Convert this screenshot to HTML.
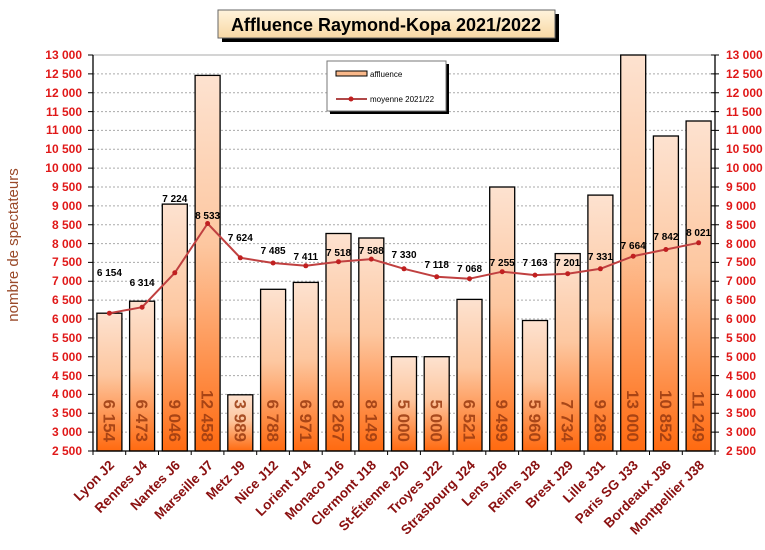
<!DOCTYPE html>
<html><head><meta charset="utf-8"><style>
body{margin:0;background:#fff}
svg{display:block;font-family:"Liberation Sans",Arial,sans-serif}
.yl{font-size:12px;font-weight:bold;fill:#e01818}
.xl{font-size:13.5px;font-weight:bold;fill:#8a1010}
.ml{font-size:10px;font-weight:bold;fill:#000;text-anchor:middle}
.vl{font-size:17px;font-weight:bold;fill:#9a3a10;opacity:.85}
</style></head><body>
<svg width="765" height="550" viewBox="0 0 765 550">
<defs>
<linearGradient id="bg" x1="0" y1="0" x2="0" y2="1">
<stop offset="0" stop-color="#fde2d0"/><stop offset="0.45" stop-color="#fdc7a0"/><stop offset="1" stop-color="#ff6a10"/>
</linearGradient>
<linearGradient id="tg" x1="0" y1="0" x2="0" y2="1">
<stop offset="0" stop-color="#fff3dc"/><stop offset="1" stop-color="#f8d8a4"/>
</linearGradient>
</defs>
<rect x="222" y="14" width="337" height="28" fill="#000"/>
<rect x="218" y="10" width="337" height="28" fill="url(#tg)" stroke="#666" stroke-width="1"/>
<text x="386" y="31" text-anchor="middle" font-size="18" font-weight="bold">Affluence Raymond-Kopa 2021/2022</text>
<g stroke="#aaa" stroke-dasharray="2,2" stroke-width="1">
<line x1="93" x2="715" y1="55" y2="55" stroke-dasharray="none"/>
<line x1="93" x2="715" y1="73.9" y2="73.9"/><line x1="93" x2="715" y1="92.7" y2="92.7"/><line x1="93" x2="715" y1="111.6" y2="111.6"/><line x1="93" x2="715" y1="130.4" y2="130.4"/><line x1="93" x2="715" y1="149.3" y2="149.3"/><line x1="93" x2="715" y1="168.1" y2="168.1"/><line x1="93" x2="715" y1="187" y2="187"/><line x1="93" x2="715" y1="205.9" y2="205.9"/><line x1="93" x2="715" y1="224.7" y2="224.7"/><line x1="93" x2="715" y1="243.6" y2="243.6"/><line x1="93" x2="715" y1="262.4" y2="262.4"/><line x1="93" x2="715" y1="281.3" y2="281.3"/><line x1="93" x2="715" y1="300.1" y2="300.1"/><line x1="93" x2="715" y1="319" y2="319"/><line x1="93" x2="715" y1="337.9" y2="337.9"/><line x1="93" x2="715" y1="356.7" y2="356.7"/><line x1="93" x2="715" y1="375.6" y2="375.6"/><line x1="93" x2="715" y1="394.4" y2="394.4"/><line x1="93" x2="715" y1="413.3" y2="413.3"/><line x1="93" x2="715" y1="432.1" y2="432.1"/>
</g>
<g fill="url(#bg)" stroke="#000" stroke-width="1.3">
<rect x="96.9" y="313.2" width="25" height="137.8"/>
<rect x="129.6" y="301.2" width="25" height="149.8"/>
<rect x="162.3" y="204.1" width="25" height="246.9"/>
<rect x="195.1" y="75.4" width="25" height="375.6"/>
<rect x="227.8" y="394.8" width="25" height="56.2"/>
<rect x="260.6" y="289.3" width="25" height="161.7"/>
<rect x="293.3" y="282.4" width="25" height="168.6"/>
<rect x="326" y="233.5" width="25" height="217.5"/>
<rect x="358.8" y="238" width="25" height="213"/>
<rect x="391.5" y="356.7" width="25" height="94.3"/>
<rect x="424.2" y="356.7" width="25" height="94.3"/>
<rect x="457" y="299.4" width="25" height="151.6"/>
<rect x="489.7" y="187" width="25" height="264"/>
<rect x="522.5" y="320.5" width="25" height="130.5"/>
<rect x="555.2" y="253.6" width="25" height="197.4"/>
<rect x="587.9" y="195.1" width="25" height="255.9"/>
<rect x="620.7" y="55" width="25" height="396"/>
<rect x="653.4" y="136" width="25" height="315"/>
<rect x="686.1" y="121" width="25" height="330"/>
</g>
<g class="vl" text-anchor="end">
<text transform="translate(109.4,442) rotate(90)" dy="0.35em">6 154</text>
<text transform="translate(142.1,442) rotate(90)" dy="0.35em">6 473</text>
<text transform="translate(174.8,442) rotate(90)" dy="0.35em">9 046</text>
<text transform="translate(207.6,442) rotate(90)" dy="0.35em">12 458</text>
<text transform="translate(240.3,442) rotate(90)" dy="0.35em">3 989</text>
<text transform="translate(273.1,442) rotate(90)" dy="0.35em">6 788</text>
<text transform="translate(305.8,442) rotate(90)" dy="0.35em">6 971</text>
<text transform="translate(338.5,442) rotate(90)" dy="0.35em">8 267</text>
<text transform="translate(371.3,442) rotate(90)" dy="0.35em">8 149</text>
<text transform="translate(404,442) rotate(90)" dy="0.35em">5 000</text>
<text transform="translate(436.7,442) rotate(90)" dy="0.35em">5 000</text>
<text transform="translate(469.5,442) rotate(90)" dy="0.35em">6 521</text>
<text transform="translate(502.2,442) rotate(90)" dy="0.35em">9 499</text>
<text transform="translate(535,442) rotate(90)" dy="0.35em">5 960</text>
<text transform="translate(567.7,442) rotate(90)" dy="0.35em">7 734</text>
<text transform="translate(600.4,442) rotate(90)" dy="0.35em">9 286</text>
<text transform="translate(633.2,442) rotate(90)" dy="0.35em">13 000</text>
<text transform="translate(665.9,442) rotate(90)" dy="0.35em">10 852</text>
<text transform="translate(698.6,442) rotate(90)" dy="0.35em">11 249</text>
</g>
<polyline fill="none" stroke="#c04040" stroke-width="2" stroke-linejoin="round" points="109.4,313.2 142.1,307.2 174.8,272.8 207.6,223.5 240.3,257.8 273.1,263 305.8,265.8 338.5,261.7 371.3,259.1 404,268.8 436.7,276.8 469.5,278.7 502.2,271.7 535,275.1 567.7,273.7 600.4,268.8 633.2,256.2 665.9,249.5 698.6,242.8"/>
<g fill="#c02020">
<circle cx="109.4" cy="313.2" r="2.5"/><circle cx="142.1" cy="307.2" r="2.5"/><circle cx="174.8" cy="272.8" r="2.5"/><circle cx="207.6" cy="223.5" r="2.5"/><circle cx="240.3" cy="257.8" r="2.5"/><circle cx="273.1" cy="263" r="2.5"/><circle cx="305.8" cy="265.8" r="2.5"/><circle cx="338.5" cy="261.7" r="2.5"/><circle cx="371.3" cy="259.1" r="2.5"/><circle cx="404" cy="268.8" r="2.5"/><circle cx="436.7" cy="276.8" r="2.5"/><circle cx="469.5" cy="278.7" r="2.5"/><circle cx="502.2" cy="271.7" r="2.5"/><circle cx="535" cy="275.1" r="2.5"/><circle cx="567.7" cy="273.7" r="2.5"/><circle cx="600.4" cy="268.8" r="2.5"/><circle cx="633.2" cy="256.2" r="2.5"/><circle cx="665.9" cy="249.5" r="2.5"/><circle cx="698.6" cy="242.8" r="2.5"/>
</g>
<g class="ml">
<text x="109.4" y="276">6 154</text><text x="142.1" y="286">6 314</text><text x="174.8" y="202">7 224</text><text x="207.6" y="219">8 533</text><text x="240.3" y="241">7 624</text><text x="273.1" y="254">7 485</text><text x="305.8" y="260">7 411</text><text x="338.5" y="256">7 518</text><text x="371.3" y="254">7 588</text><text x="404" y="258">7 330</text><text x="436.7" y="268">7 118</text><text x="469.5" y="272">7 068</text><text x="502.2" y="266">7 255</text><text x="535" y="266">7 163</text><text x="567.7" y="266">7 201</text><text x="600.4" y="260">7 331</text><text x="633.2" y="249">7 664</text><text x="665.9" y="240">7 842</text><text x="698.6" y="236">8 021</text>
</g>
<g stroke="#000" stroke-width="1.3">
<line x1="93" y1="55" x2="93" y2="451"/>
<line x1="715" y1="55" x2="715" y2="451"/>
<line x1="93" y1="451" x2="715" y2="451"/>
</g>
<g stroke="#000" stroke-width="1">
<path d="M88 55H93M88 73.9H93M88 92.7H93M88 111.6H93M88 130.4H93M88 149.3H93M88 168.1H93M88 187H93M88 205.9H93M88 224.7H93M88 243.6H93M88 262.4H93M88 281.3H93M88 300.1H93M88 319H93M88 337.9H93M88 356.7H93M88 375.6H93M88 394.4H93M88 413.3H93M88 432.1H93M88 451H93"/>
<path d="M711 55H719M711 73.9H719M711 92.7H719M711 111.6H719M711 130.4H719M711 149.3H719M711 168.1H719M711 187H719M711 205.9H719M711 224.7H719M711 243.6H719M711 262.4H719M711 281.3H719M711 300.1H719M711 319H719M711 337.9H719M711 356.7H719M711 375.6H719M711 394.4H719M711 413.3H719M711 432.1H719M711 451H719"/>
<path d="M93 451V455M125.7 451V455M158.5 451V455M191.2 451V455M223.9 451V455M256.7 451V455M289.4 451V455M322.2 451V455M354.9 451V455M387.6 451V455M420.4 451V455M453.1 451V455M485.8 451V455M518.6 451V455M551.3 451V455M584.1 451V455M616.8 451V455M649.5 451V455M682.3 451V455M715 451V455"/>
</g>
<g class="yl" text-anchor="end">
<text x="82" y="59">13 000</text><text x="82" y="78">12 500</text><text x="82" y="97">12 000</text><text x="82" y="116">11 500</text><text x="82" y="134">11 000</text><text x="82" y="153">10 500</text><text x="82" y="172">10 000</text><text x="82" y="191">9 500</text><text x="82" y="210">9 000</text><text x="82" y="229">8 500</text><text x="82" y="248">8 000</text><text x="82" y="266">7 500</text><text x="82" y="285">7 000</text><text x="82" y="304">6 500</text><text x="82" y="323">6 000</text><text x="82" y="342">5 500</text><text x="82" y="361">5 000</text><text x="82" y="380">4 500</text><text x="82" y="398">4 000</text><text x="82" y="417">3 500</text><text x="82" y="436">3 000</text><text x="82" y="455">2 500</text>
</g>
<g class="yl" text-anchor="start">
<text x="726" y="59">13 000</text><text x="726" y="78">12 500</text><text x="726" y="97">12 000</text><text x="726" y="116">11 500</text><text x="726" y="134">11 000</text><text x="726" y="153">10 500</text><text x="726" y="172">10 000</text><text x="726" y="191">9 500</text><text x="726" y="210">9 000</text><text x="726" y="229">8 500</text><text x="726" y="248">8 000</text><text x="726" y="266">7 500</text><text x="726" y="285">7 000</text><text x="726" y="304">6 500</text><text x="726" y="323">6 000</text><text x="726" y="342">5 500</text><text x="726" y="361">5 000</text><text x="726" y="380">4 500</text><text x="726" y="398">4 000</text><text x="726" y="417">3 500</text><text x="726" y="436">3 000</text><text x="726" y="455">2 500</text>
</g>
<text transform="translate(18,245) rotate(-90)" text-anchor="middle" font-size="15" fill="#9a4a2a">nombre de spectateurs</text>
<g class="xl" text-anchor="end">
<text transform="translate(115,466) rotate(-45)">Lyon J2</text>
<text transform="translate(148,466) rotate(-45)">Rennes J4</text>
<text transform="translate(181,466) rotate(-45)">Nantes J6</text>
<text transform="translate(214,466) rotate(-45)">Marseille J7</text>
<text transform="translate(246,466) rotate(-45)">Metz J9</text>
<text transform="translate(279,466) rotate(-45)">Nice J12</text>
<text transform="translate(312,466) rotate(-45)">Lorient J14</text>
<text transform="translate(345,466) rotate(-45)">Monaco J16</text>
<text transform="translate(377,466) rotate(-45)">Clermont J18</text>
<text transform="translate(410,466) rotate(-45)">St-Étienne J20</text>
<text transform="translate(443,466) rotate(-45)">Troyes J22</text>
<text transform="translate(476,466) rotate(-45)">Strasbourg J24</text>
<text transform="translate(508,466) rotate(-45)">Lens J26</text>
<text transform="translate(541,466) rotate(-45)">Reims J28</text>
<text transform="translate(574,466) rotate(-45)">Brest J29</text>
<text transform="translate(606,466) rotate(-45)">Lille J31</text>
<text transform="translate(639,466) rotate(-45)">Paris SG J33</text>
<text transform="translate(672,466) rotate(-45)">Bordeaux J36</text>
<text transform="translate(705,466) rotate(-45)">Montpellier J38</text>
</g>
<rect x="330" y="64" width="119" height="50" fill="#000"/>
<rect x="327" y="61" width="119" height="50" fill="#fff" stroke="#777"/>
<rect x="336" y="71" width="31" height="5" fill="#f9b88a" stroke="#000"/>
<text x="370" y="77" font-size="8">affluence</text>
<line x1="336" y1="99" x2="367" y2="99" stroke="#b04848" stroke-width="2"/>
<circle cx="351" cy="99" r="2.5" fill="#c02020"/>
<text x="370" y="102" font-size="8">moyenne 2021/22</text>
</svg>
</body></html>
